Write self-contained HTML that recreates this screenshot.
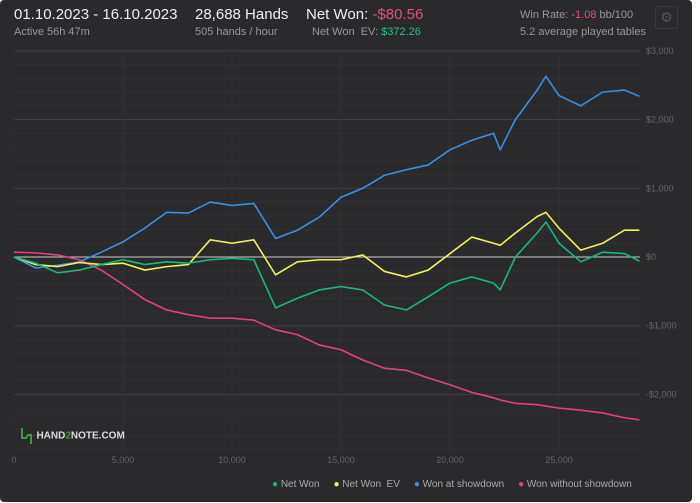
<!DOCTYPE html>
<html><head><meta charset="utf-8"><style>
body{margin:0;background:#fff;width:700px;height:503px;overflow:hidden;font-family:"Liberation Sans",sans-serif;}
#card{position:absolute;left:0;top:0;width:692px;height:502px;background:#2a2a2c;border-radius:4px;}
.t{position:absolute;white-space:nowrap;}
</style></head><body>
<div id="card">
<div class="t" style="left:14px;top:6px;font-size:15px;color:#eee">01.10.2023 - 16.10.2023</div>
<div class="t" style="left:14px;top:26px;font-size:11px;color:#999">Active 56h 47m</div>
<div class="t" style="left:195px;top:6px;font-size:15px;color:#eee">28,688 Hands</div>
<div class="t" style="left:195px;top:26px;font-size:11px;color:#999">505 hands / hour</div>
<div class="t" style="left:306px;top:6px;font-size:15px;color:#eee">Net Won: <span style="color:#e0507a">-$80.56</span></div>
<div class="t" style="left:312px;top:26px;font-size:11px;color:#999">Net Won&nbsp; EV: <span style="color:#28c08a">$372.26</span></div>
<div class="t" style="left:520px;top:9px;font-size:11px;color:#999">Win Rate: <span style="color:#e0507a">-1.08</span> bb/100</div>
<div class="t" style="left:520px;top:26px;font-size:11px;color:#999">5.2 average played tables</div>
<div class="t" style="left:655px;top:6px;width:21px;height:21px;border:1px solid #3a3a3c;border-radius:2px;color:#555;font-size:14px;text-align:center;line-height:21px">⚙</div>
<svg id="chart" width="692" height="502" style="position:absolute;left:0;top:0"></svg>
<div class="t" style="left:20px;top:426px">
<svg width="12" height="20" style="vertical-align:middle"><path d="M2 2v10h4l2-3h3V18" stroke="#3c9a48" stroke-width="2" fill="none"/></svg>
<span style="font-size:10px;font-weight:bold;color:#ddd;vertical-align:middle">HAND<span style="color:#3c9a48">2</span>NOTE.COM</span></div>
<div class="t" style="left:272px;top:479px;font-size:10px;color:#aaa">
<span><span style="color:#1fb57a">●</span> Net Won</span>&nbsp;&nbsp;&nbsp;&nbsp;
<span><span style="color:#f0f060">●</span> Net Won&nbsp; EV</span>&nbsp;&nbsp;&nbsp;&nbsp;
<span><span style="color:#3d8fe0">●</span> Won at showdown</span>&nbsp;&nbsp;&nbsp;&nbsp;
<span><span style="color:#e0447a">●</span> Won without showdown</span></div>
</div>
<script>
const hands=[0,1000,2000,3000,4000,5000,6000,7000,8000,9000,10000,11000,12000,13000,14000,15000,16000,17000,18000,19000,20000,21000,22000,22300,23000,24000,24400,25000,26000,27000,28000,28688];
const netWon=[0,-90,-230,-190,-110,-40,-110,-70,-90,-40,-20,-40,-740,-600,-480,-430,-480,-700,-770,-580,-380,-290,-380,-480,0,350,510,200,-70,70,50,-60];
const netWonEV=[0,-110,-140,-80,-110,-90,-190,-140,-110,250,200,250,-260,-70,-40,-40,30,-210,-290,-190,50,290,200,170,350,590,650,420,100,200,390,390];
const wonShowdown=[0,-160,-120,-70,70,220,420,650,640,800,750,780,270,390,580,870,1000,1190,1270,1340,1560,1700,1800,1560,2000,2430,2630,2350,2200,2400,2430,2340];
const wonNoShowdown=[70,60,30,-40,-190,-400,-620,-770,-840,-890,-890,-920,-1060,-1130,-1280,-1350,-1500,-1620,-1650,-1760,-1860,-1970,-2050,-2080,-2130,-2150,-2170,-2200,-2230,-2270,-2340,-2370];
const yTicks=[3000,2000,1000,0,-1000,-2000];
const yTickLabels=["$3,000","$2,000","$1,000","$0","-$1,000","-$2,000"];
const xTicks=[0,5000,10000,15000,20000,25000];
const xTickLabels=["0","5,000","10,000","15,000","20,000","25,000"];
const svg=document.getElementById('chart');const NS='http://www.w3.org/2000/svg';
const X=v=>14+v*0.0218, Y=v=>257-v*0.0687;
function el(t,a){const e=document.createElementNS(NS,t);for(const k in a)e.setAttribute(k,a[k]);svg.appendChild(e);return e;}
for(let v=-2800;v<=3000;v+=200){const major=v%1000===0;const g=el('line',{x1:14,x2:640,y1:Y(v),y2:Y(v),stroke:major?'#424245':'#313134','stroke-width':1});

}
xTicks.forEach((v,i)=>{if(i>0){const g=el('line',{x1:X(v),x2:X(v),y1:51,y2:450,stroke:'#333336'});

}
const t=el('text',{x:X(v),y:463,fill:'#666','font-size':9,'text-anchor':'middle','font-family':'Liberation Sans'});t.textContent=xTickLabels[i];

});
yTicks.forEach((v,i)=>{const t=el('text',{x:646,y:Y(v)+3,fill:'#666','font-size':9,'font-family':'Liberation Sans'});t.textContent=yTickLabels[i];

});
const z=el('line',{x1:14,x2:640,y1:Y(0),y2:Y(0),stroke:'#ccc','stroke-width':1});


const series=[[wonNoShowdown,'#e0447a','won-without-showdown-line'],[wonShowdown,'#3d8fe0','won-at-showdown-line'],[netWonEV,'#f0f060','net-won-ev-line'],[netWon,'#1fb57a','net-won-line']];
series.forEach(([d,c,n])=>{const p=el('polyline',{points:d.map((v,i)=>X(hands[i])+','+Y(v)).join(' '),fill:'none',stroke:c,'stroke-width':1.6,'stroke-linejoin':'round'});

});
</script>
</body></html>
